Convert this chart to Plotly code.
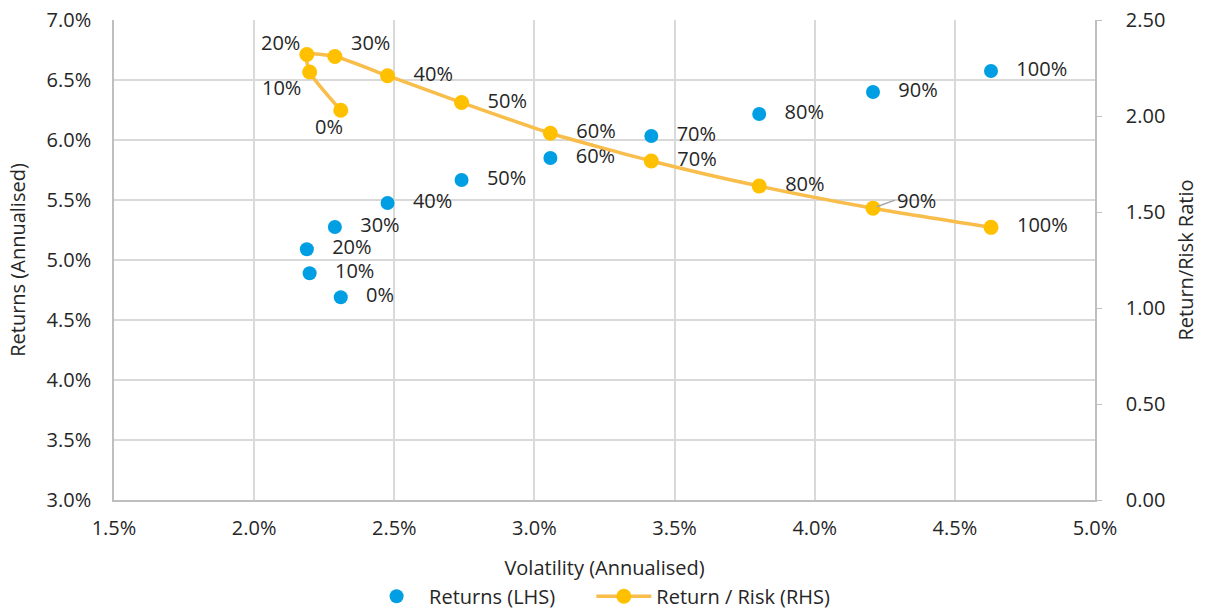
import plotly.graph_objects as go

labels = ["0%", "10%", "20%", "30%", "40%", "50%", "60%", "70%", "80%", "90%", "100%"]
volatility = [2.309, 2.198, 2.188, 2.288, 2.476, 2.740, 3.057, 3.417, 3.802, 4.208, 4.629]
returns = [4.69, 4.89, 5.09, 5.275, 5.475, 5.667, 5.85, 6.033, 6.217, 6.40, 6.575]
ratio = [2.03, 2.229, 2.32, 2.31, 2.21, 2.07, 1.91, 1.766, 1.635, 1.52, 1.42]

BLUE = "#009FE3"
ORANGE = "#FFC000"
LINE = "#F8BD4A"
FONT = "Open Sans"
TXT = "#262626"
FS = 20

# label offsets (px) for the ratio labels that are not placed to the right of their marker
special = {"0%": (-12, -16), "10%": (-28, -15), "20%": (-26, 12), "30%": (36, 14)}

ratio_text = ["" if (l in special or l == "90%") else "   " + l for l in labels]

fig = go.Figure()
fig.add_trace(go.Scatter(
    x=volatility, y=returns, mode="markers+text", name="Returns (LHS)" + "\u00a0" * 6,
    marker=dict(color=BLUE, size=14),
    text=["   " + l for l in labels], textposition="middle right",
    textfont=dict(family=FONT, size=FS, color=TXT),
    cliponaxis=False,
))
fig.add_trace(go.Scatter(
    x=volatility, y=ratio, mode="lines+markers+text", name="Return / Risk (RHS)",
    yaxis="y2", line=dict(color=LINE, width=3.5, shape="spline", smoothing=0.6),
    marker=dict(color=ORANGE, size=15),
    text=ratio_text, textposition="middle right",
    textfont=dict(family=FONT, size=FS, color=TXT),
    cliponaxis=False,
))

for i, l in enumerate(labels):
    if l in special:
        dx, dy = special[l]
        fig.add_annotation(
            x=volatility[i], y=ratio[i], xref="x", yref="y2", text=l, showarrow=False,
            xanchor="center", yanchor="middle", xshift=dx, yshift=dy,
            font=dict(family=FONT, size=FS, color=TXT),
        )

i90 = labels.index("90%")
fig.add_annotation(
    x=volatility[i90], y=ratio[i90], xref="x", yref="y2",
    text="90%", showarrow=True, arrowhead=0, arrowwidth=1.5, arrowcolor="#A6A6A6",
    ax=22, ay=-8, xanchor="left", yanchor="middle", standoff=4,
    font=dict(family=FONT, size=FS, color=TXT),
)

fig.update_layout(
    width=1206, height=609,
    margin=dict(l=114, r=111, t=20, b=109, autoexpand=False),
    paper_bgcolor="white", plot_bgcolor="white",
    font=dict(family=FONT, size=FS, color=TXT),
    showlegend=True,
    legend=dict(orientation="h", x=0.495, xanchor="center", y=-0.16, yanchor="top",
                font=dict(family=FONT, size=FS, color=TXT), itemwidth=55,
                tracegroupgap=0),
    xaxis=dict(
        range=[1.5, 5.0], dtick=0.5, tickformat=".1f", ticksuffix="%",
        showgrid=True, gridcolor="#D9D9D9", gridwidth=1.5,
        showline=True, linecolor="#BFBFBF", linewidth=1.5,
        zeroline=False, ticks="", automargin=False, ticklabelstandoff=9,
        title=dict(text="Volatility (Annualised)", font=dict(family=FONT, size=FS, color=TXT), standoff=21),
    ),
    yaxis=dict(
        range=[3.0, 7.0], dtick=0.5, tickformat=".1f", ticksuffix="%",
        showgrid=True, gridcolor="#D9D9D9", gridwidth=1.5,
        showline=True, linecolor="#BFBFBF", linewidth=1.5,
        zeroline=False, ticks="", automargin=False, ticklabelstandoff=17,
        ticklabeloverflow="allow",
        title=dict(text="Returns (Annualised)", font=dict(family=FONT, size=FS, color=TXT), standoff=16),
    ),
    yaxis2=dict(
        range=[0, 2.5], dtick=0.5, tickformat=".2f", overlaying="y", side="right",
        showgrid=False, showline=True, linecolor="#BFBFBF", linewidth=1.5,
        zeroline=False, ticks="outside", ticklen=5, tickcolor="#BFBFBF",
        automargin=False, ticklabelstandoff=20, ticklabeloverflow="allow",
        title=dict(text="Return/Risk Ratio", font=dict(family=FONT, size=FS, color=TXT), standoff=15),
    ),
)

# remove the default 8px page margin so the figure sits at the window's top-left corner
fig.write_html("out.html", config={"displayModeBar": False},
               post_script="document.body.style.margin='0';")
